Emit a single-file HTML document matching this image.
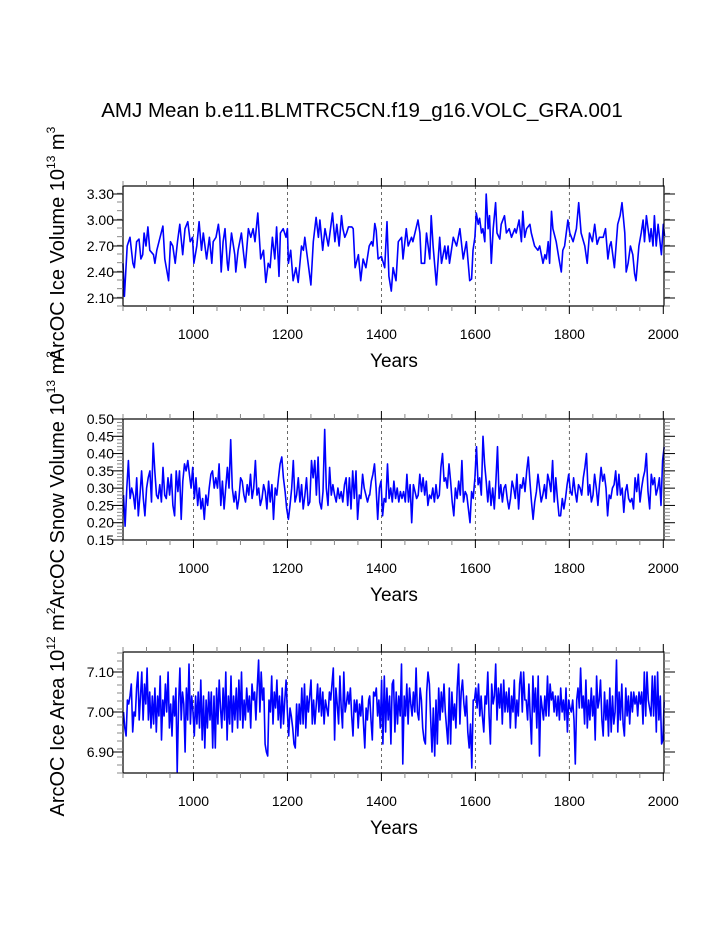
<!DOCTYPE html>
<html><head><meta charset="utf-8"><style>
body{margin:0;background:#fff}
svg{display:block;font-family:"Liberation Sans",Arial,sans-serif}
</style></head><body>
<svg id="chart" width="723" height="935" viewBox="0 0 723 935" xmlns="http://www.w3.org/2000/svg">
<text x="362" y="117" font-size="20.5" text-anchor="middle">AMJ Mean b.e11.BLMTRC5CN.f19_g16.VOLC_GRA.001</text>
<g id="panels"></g>
</svg>
<script>
// ---- Panel 1: ice volume (years) ----
const iceVolYears=[850,853,859,865,871,874,879,884,888,892,895,899,903,907,915,918,922,935,939,947,951,956,961,966,971,977,982,988,993,998,1001,1007,1012,1017,1021,1028,1034,1039,1042,1048,1053,1056,1059,1063,1067,1072,1074,1081,1088,1090,1095,1102,1107,1110,1117,1122,1127,1131,1137,1143,1149,1154,1159,1163,1168,1173,1177,1182,1185,1191,1197,1200,1202,1207,1212,1218,1223,1230,1234,1237,1250,1255,1261,1266,1269,1275,1280,1287,1296,1301,1305,1310,1315,1318,1322,1326,1330,1337,1340,1344,1351,1356,1361,1367,1374,1379,1382,1386,1389,1393,1400,1407,1412,1416,1421,1425,1431,1436,1443,1446,1453,1457,1464,1467,1478,1482,1485,1492,1496,1503,1506,1510,1517,1524,1528,1535,1538,1542,1545,1553,1560,1567,1574,1581,1588,1592,1595,1599,1602,1606,1609,1613,1616,1620,1623,1627,1630,1634,1638,1643,1646,1652,1655,1662,1666,1672,1677,1684,1687,1693,1698,1701,1705,1709,1716,1719,1726,1733,1737,1744,1748,1751,1755,1758,1762,1765,1772,1778,1783,1786,1790,1797,1801,1808,1815,1820,1825,1833,1838,1843,1849,1854,1859,1864,1872,1877,1882,1886,1889,1896,1903,1908,1912,1918,1921,1925,1930,1935,1939,1942,1948,1953,1957,1960,1964,1971,1974,1978,1981,1985,1989,1996,2000,2003];
const iceVolValues=[2.50,2.12,2.70,2.80,2.50,2.45,2.75,2.78,2.55,2.60,2.85,2.70,2.92,2.65,2.60,2.50,2.65,2.93,2.55,2.30,2.75,2.70,2.50,2.75,2.95,2.60,2.90,2.98,2.75,2.80,2.50,2.70,2.98,2.65,2.85,2.55,2.80,2.50,2.75,2.80,2.95,2.80,2.40,2.75,2.90,2.50,2.42,2.85,2.60,2.40,2.65,2.85,2.60,2.45,2.90,2.80,2.90,2.75,3.08,2.55,2.65,2.28,2.50,2.45,2.80,2.55,2.92,2.35,2.85,2.90,2.80,2.90,2.50,2.65,2.30,2.45,2.28,2.70,2.65,2.80,2.25,2.75,3.03,2.80,3.00,2.65,2.90,2.70,3.08,2.75,2.95,2.70,3.05,2.90,2.80,2.85,2.92,2.92,2.90,2.45,2.60,2.30,2.55,2.45,2.70,2.75,2.70,2.96,2.88,2.55,2.58,2.45,2.98,2.35,2.18,2.45,2.30,2.75,2.80,2.55,2.90,2.70,2.80,2.75,3.00,2.85,2.50,2.50,2.85,2.55,3.05,2.70,2.25,2.80,2.50,2.70,2.55,2.70,2.50,2.80,2.70,2.90,2.55,2.75,2.30,2.32,2.65,2.80,3.08,2.95,3.02,2.85,2.90,2.75,3.30,2.90,3.05,2.50,2.90,3.20,2.85,2.78,2.95,3.05,2.85,2.90,2.80,2.90,2.85,3.00,2.75,3.10,2.80,2.90,2.95,2.85,2.70,2.65,2.70,2.50,2.60,2.55,2.75,2.50,3.10,2.90,2.75,2.55,2.40,2.65,2.70,3.00,2.85,2.75,2.90,3.20,2.85,2.70,2.50,2.85,2.75,2.95,2.72,2.80,2.80,2.90,2.55,2.70,2.75,2.45,2.95,3.05,3.20,2.85,2.40,2.50,2.70,2.60,2.38,2.30,2.70,2.85,3.00,2.75,3.05,2.75,2.90,2.70,3.05,2.70,2.95,2.60,2.95,2.80];
const iceVolTicks=[2.10,2.40,2.70,3.00,3.30];

// ---- Panel 2: snow volume (two regularly sampled segments) ----
const snowSegAStart=851, snowSegAEnd=1374;
const snowSegAValues=[0.28,0.19,0.30,0.38,0.27,0.30,0.28,0.24,0.33,0.22,0.28,0.35,0.27,0.22,0.30,0.33,0.35,0.26,0.43,0.35,0.28,0.27,0.31,0.26,0.36,0.28,0.27,0.33,0.28,0.34,0.25,0.22,0.35,0.29,0.35,0.21,0.32,0.37,0.35,0.38,0.34,0.30,0.36,0.27,0.33,0.25,0.30,0.24,0.27,0.21,0.28,0.25,0.30,0.34,0.35,0.30,0.33,0.30,0.37,0.25,0.32,0.24,0.30,0.36,0.30,0.44,0.30,0.26,0.29,0.24,0.27,0.33,0.32,0.28,0.26,0.31,0.28,0.34,0.27,0.30,0.38,0.28,0.30,0.25,0.27,0.31,0.29,0.24,0.32,0.26,0.31,0.21,0.30,0.28,0.33,0.37,0.39,0.33,0.29,0.24,0.21,0.25,0.30,0.38,0.26,0.28,0.33,0.26,0.31,0.24,0.28,0.33,0.25,0.26,0.38,0.33,0.38,0.28,0.39,0.26,0.24,0.29,0.47,0.30,0.25,0.36,0.28,0.31,0.28,0.26,0.30,0.27,0.29,0.26,0.31,0.33,0.25,0.33,0.24,0.35,0.27,0.35,0.21,0.28,0.27,0.34,0.30,0.28,0.26,0.28];
const snowSegBStart=1375, snowSegBEnd=2002;
const snowSegBValues=[0.28,0.32,0.34,0.37,0.30,0.21,0.30,0.32,0.22,0.27,0.26,0.37,0.27,0.30,0.26,0.32,0.27,0.30,0.26,0.29,0.27,0.29,0.26,0.34,0.26,0.31,0.20,0.31,0.29,0.27,0.28,0.34,0.29,0.33,0.28,0.32,0.25,0.28,0.27,0.30,0.26,0.31,0.27,0.28,0.36,0.40,0.32,0.33,0.30,0.37,0.32,0.26,0.22,0.30,0.27,0.32,0.28,0.38,0.26,0.29,0.28,0.24,0.20,0.29,0.27,0.33,0.42,0.31,0.33,0.28,0.45,0.37,0.32,0.26,0.32,0.25,0.30,0.24,0.32,0.42,0.27,0.31,0.26,0.30,0.31,0.27,0.24,0.27,0.32,0.30,0.27,0.34,0.24,0.31,0.30,0.33,0.29,0.35,0.39,0.32,0.26,0.21,0.26,0.29,0.34,0.30,0.26,0.28,0.31,0.27,0.34,0.32,0.29,0.38,0.26,0.33,0.27,0.22,0.22,0.27,0.24,0.27,0.31,0.34,0.29,0.28,0.33,0.29,0.26,0.31,0.30,0.28,0.33,0.36,0.40,0.28,0.31,0.26,0.28,0.34,0.30,0.25,0.31,0.36,0.32,0.34,0.30,0.22,0.28,0.27,0.30,0.31,0.35,0.28,0.34,0.28,0.30,0.23,0.29,0.31,0.27,0.26,0.27,0.24,0.33,0.29,0.34,0.26,0.30,0.33,0.35,0.40,0.29,0.24,0.34,0.31,0.33,0.28,0.30,0.33,0.25,0.38,0.42];
const snowTicks=[0.15,0.20,0.25,0.30,0.35,0.40,0.45,0.50];

// ---- Panel 3: ice area (two regularly sampled segments) ----
const areaSegAStart=851, areaSegAEnd=1373;
const areaSegAValues=[7.00,6.96,6.94,7.03,7.02,7.04,7.07,6.95,7.00,6.99,7.06,7.10,6.98,7.04,7.10,6.98,7.07,7.02,7.11,6.98,7.05,6.96,7.04,6.97,7.06,6.95,7.04,6.99,7.09,6.93,7.03,6.99,7.07,7.00,7.10,6.96,7.02,6.94,7.04,6.99,7.06,6.85,7.02,7.11,6.98,7.05,7.02,6.90,7.06,6.98,7.12,6.97,7.04,7.00,6.94,7.04,6.97,7.05,6.96,7.08,6.93,7.04,6.91,7.03,6.96,7.05,6.98,7.05,6.91,7.04,6.91,7.06,6.97,7.08,7.01,6.96,7.06,6.98,7.10,6.93,7.04,6.97,7.09,6.95,7.04,6.98,7.06,6.96,7.08,6.98,7.10,6.96,7.03,6.98,7.06,7.00,7.04,6.96,7.07,7.03,7.05,6.98,7.06,7.13,7.00,7.10,7.03,7.06,6.92,6.90,6.89,7.03,7.00,7.09,6.97,7.05,7.01,7.08,6.98,7.04,6.96,7.06,6.97,7.03,7.08,7.00,6.94,7.01,6.99,6.96,6.92,6.91,7.02,6.94,7.02,6.97,7.06,6.97,7.07,6.96,7.04,7.00,7.04,7.08,6.97,7.03,6.97,7.02,7.07,7.00,7.06,6.99,7.05,6.97,7.03,7.01,6.99,7.05,7.03,7.07,7.11,6.93,7.06,7.02,6.97,7.09,7.01,6.96,7.10,7.00,7.02,7.05,7.02,7.06,6.99,6.94,7.03,7.00,7.03,6.96,7.02,6.99,7.04,6.97,6.91,7.01,6.98,7.03];
const areaSegBStart=1375, areaSegBEnd=2002;
const areaSegBValues=[7.04,6.98,6.93,7.05,7.04,7.06,6.99,7.03,6.96,7.08,6.92,7.09,6.95,7.06,6.98,7.04,6.92,7.07,7.08,6.95,7.05,6.97,7.04,6.99,7.12,6.87,7.04,6.99,7.07,6.97,7.06,7.02,6.99,7.05,7.00,7.11,7.00,6.98,7.06,7.03,6.96,6.93,6.92,7.05,7.10,7.07,6.98,6.90,7.01,6.89,7.03,6.92,7.06,6.98,7.05,7.00,7.07,7.00,6.96,6.92,7.06,6.92,7.05,6.98,7.02,6.96,7.06,7.12,6.97,7.05,7.08,7.02,6.99,7.04,6.95,6.91,6.97,6.86,7.03,7.03,7.06,7.01,7.07,6.99,7.04,6.99,6.95,7.04,7.02,7.10,6.99,6.92,7.07,7.02,7.04,7.12,6.98,7.06,7.01,7.07,6.97,7.08,7.00,7.05,7.00,7.06,6.96,7.04,7.00,7.08,6.96,7.03,6.99,7.07,7.10,7.00,7.10,7.03,7.03,6.98,7.07,6.99,6.92,7.09,7.00,7.06,6.96,7.09,6.89,7.04,7.01,6.98,7.04,6.99,7.09,6.99,7.07,7.03,7.05,7.00,7.04,6.99,7.04,6.98,7.06,7.00,7.03,6.98,7.06,6.95,7.03,7.01,7.00,7.03,6.98,6.87,7.03,7.06,7.01,7.11,7.01,7.04,6.97,7.08,6.96,7.03,6.98,7.06,6.99,7.04,6.93,7.09,7.01,7.03,7.08,6.98,6.94,7.05,6.98,7.03,6.94,7.06,6.95,7.04,6.97,7.00,7.13,6.95,7.05,6.98,7.07,6.97,6.94,7.06,6.99,7.04,6.97,7.05,7.00,7.05,7.02,7.04,6.99,7.05,7.02,7.05,6.97,7.10,6.99,7.10,7.03,7.01,6.99,7.09,6.99,7.09,6.95,7.10,6.98,7.04,6.92,6.93,7.03];
const areaTicks=[6.90,7.00,7.10];

const xTickLabels=[1000,1200,1400,1600,1800,2000];

const NS="http://www.w3.org/2000/svg";
const root=document.getElementById('panels');
function mk(tag,attrs,parent){const e=document.createElementNS(NS,tag);for(const k in attrs)e.setAttribute(k,attrs[k]);(parent||root).appendChild(e);return e;}
function seg(start,end,vals){const n=vals.length;return vals.map((v,i)=>[start+(end-start)*i/(n-1),v]);}

const X0=123,X1=664,YR0=850,YR1=2001.5;
const xs=yr=>X0+(yr-YR0)*(X1-X0)/(YR1-YR0);

function panel(cfg){
  const g=mk('g',{});
  
  
  const ys=v=>cfg.bot-(v-cfg.vmin)*(cfg.bot-cfg.top)/(cfg.vmax-cfg.vmin);
  for(const yr of [1000,1200,1400,1600,1800]){
    const l=mk('line',{x1:xs(yr),x2:xs(yr),y1:cfg.top,y2:cfg.bot,stroke:'#444','stroke-width':0.8,'stroke-dasharray':'3,3'},g);
    
    
  }
  const pts=cfg.points.map(p=>xs(p[0]).toFixed(1)+','+ys(p[1]).toFixed(1)).join(' ');
  const line=mk('polyline',{points:pts,fill:'none',stroke:'#0000ff','stroke-width':1.6,'stroke-linejoin':'round'},g);
  
  
  const fr=mk('rect',{x:X0,y:cfg.top,width:X1-X0,height:cfg.bot-cfg.top,fill:'none',stroke:'#000','stroke-width':1.2},g);
  
  
  for(let yr=850;yr<=2000;yr+=50){
    const major=yr%200===0;const L=major?8:5;const c=major?'#000':'#888';
    mk('line',{x1:xs(yr),x2:xs(yr),y1:cfg.top,y2:cfg.top-L,stroke:c,'stroke-width':1},g);
    mk('line',{x1:xs(yr),x2:xs(yr),y1:cfg.bot,y2:cfg.bot+L,stroke:c,'stroke-width':1},g);
  }
  for(const yr of xTickLabels){
    const t=mk('text',{x:xs(yr),y:cfg.bot+33,'font-size':14,'text-anchor':'middle'},g);
    t.textContent=yr;
    
    
  }
  const nMin=Math.round((cfg.vmax-cfg.vmin)/cfg.minor);
  for(let i=0;i<=nMin;i++){
    const v=cfg.vmin+i*cfg.minor;const y=ys(v);
    if(y<cfg.top-0.5||y>cfg.bot+0.5)continue;
    mk('line',{x1:X0,x2:X0-6,y1:y,y2:y,stroke:'#888','stroke-width':1},g);
    mk('line',{x1:X1,x2:X1+6,y1:y,y2:y,stroke:'#888','stroke-width':1},g);
  }
  for(const v of cfg.ticks){
    const y=ys(v);
    mk('line',{x1:X0,x2:X0-11,y1:y,y2:y,stroke:'#000','stroke-width':1},g);
    mk('line',{x1:X1,x2:X1+11,y1:y,y2:y,stroke:'#000','stroke-width':1},g);
    const t=mk('text',{x:114,y:y+5,'font-size':14,'text-anchor':'end'},g);
    t.textContent=v.toFixed(2);
    
    
  }
  const xt=mk('text',{x:394,y:cfg.bot+61,'font-size':19,'text-anchor':'middle'},g);
  xt.textContent='Years';
  
  
  const yt=mk('text',{x:0,y:0,'font-size':20,'text-anchor':'middle',transform:`translate(64,${cfg.ycenter}) rotate(-90)`},g);
  yt.innerHTML=cfg.ytitle;
  
  
}

const sup=(a,b)=>'10<tspan font-size="12" dy="-9">'+a+'</tspan><tspan dy="9"> m</tspan><tspan font-size="12" dy="-9">'+b+'</tspan>';
panel({name:'ice-volume-panel',top:186,bot:306,vmin:2.0077,vmax:3.3923,ticks:iceVolTicks,minor:0.1,
  points:iceVolYears.map((y,i)=>[y,iceVolValues[i]]),ycenter:244,
  ytitle:'ArcOC Ice Volume '+sup('13','3')});
panel({name:'snow-volume-panel',top:419,bot:540,vmin:0.15,vmax:0.50,ticks:snowTicks,minor:0.01,
  points:seg(snowSegAStart,snowSegAEnd,snowSegAValues).concat(seg(snowSegBStart,snowSegBEnd,snowSegBValues)),ycenter:480,
  ytitle:'ArcOC Snow Volume '+sup('13','3')});
panel({name:'ice-area-panel',top:652,bot:773,vmin:6.8475,vmax:7.1500,ticks:areaTicks,minor:0.02,
  points:seg(areaSegAStart,areaSegAEnd,areaSegAValues).concat(seg(areaSegBStart,areaSegBEnd,areaSegBValues)),ycenter:712,
  ytitle:'ArcOC Ice Area '+sup('12','2')});
</script>
</body></html>
